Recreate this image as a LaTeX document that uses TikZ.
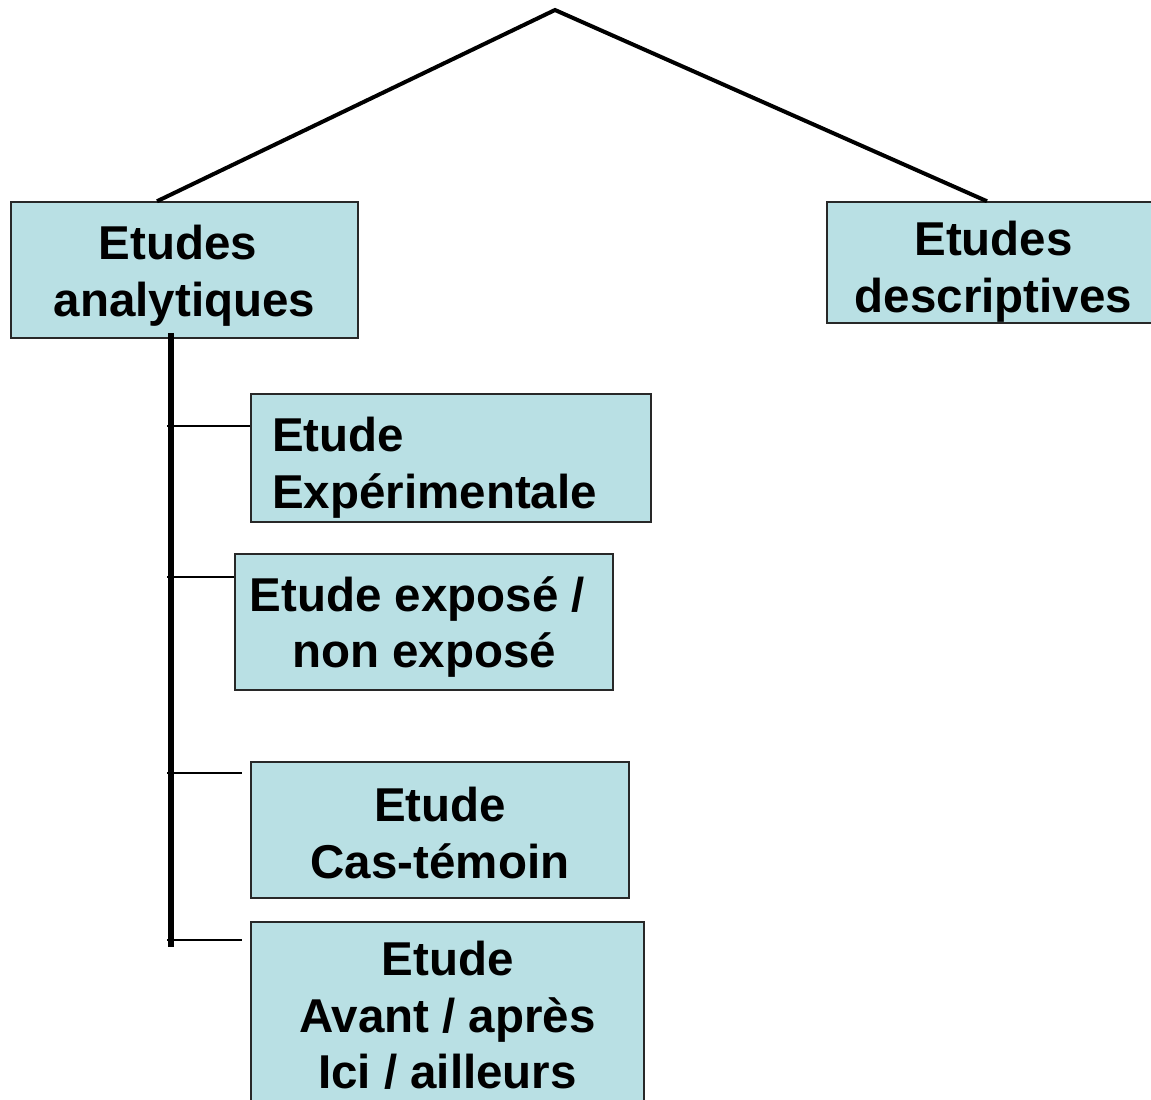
\documentclass[tikz,border=0pt]{standalone}
\usepackage{fontspec}
\setmainfont{Liberation Sans}
\definecolor{boxfill}{RGB}{185,224,228}
\definecolor{boxline}{RGB}{40,40,40}
\tikzset{
  boxshape/.style={draw=boxline, line width=1.5pt, fill=boxfill, inner sep=0pt, rectangle},
  txt/.style={inner sep=0pt, font=\fontsize{47.5}{56.5}\selectfont\bfseries},
  thickline/.style={line width=4pt, black},
  stem/.style={line width=5.5pt, black},
  branch/.style={line width=1.7pt, black}
}
\begin{document}
\begin{tikzpicture}[x=1pt,y=-1pt]
\useasboundingbox (0,0) rectangle (1151,1100);
% boxes
\node[boxshape, minimum width=347pt, minimum height=136pt] (A) at (184.5,270) {};
\node[boxshape, minimum width=328pt, minimum height=121pt] (B) at (991,262.5) {};
\node[boxshape, minimum width=400pt, minimum height=128pt] (C) at (451,458) {};
\node[boxshape, minimum width=378pt, minimum height=136pt] (D) at (424,622) {};
\node[boxshape, minimum width=378pt, minimum height=136pt] (E) at (440,830) {};
\node[boxshape, minimum width=393pt, minimum height=188pt] (F) at (447.5,1016) {};
% texts
\node[txt, align=center, anchor=north] (tA) at (184.5,225) {Etudes\kern0.278em\\analytiques};
\node[txt, align=center, anchor=north] (tB) at (993.5,221) {Etudes\\descriptives};
\node[txt, align=left, anchor=north west] (tC) at (272,417) {Etude\\Expérimentale};
\node[txt, align=center, anchor=north] (tD) at (424,576) {Etude exposé /\kern0.278em\\non exposé};
\node[txt, align=center, anchor=north] (tE) at (440,787) {Etude\\Cas-témoin};
\node[txt, align=center, anchor=north] (tF) at (447.5,941) {Etude\\Avant / après\\Ici / ailleurs};
% top connectors
\coordinate (apex) at (555,10);
\draw[thickline, line join=miter] ([xshift=-27.5pt]A.north) -- (apex) -- ([xshift=-4pt]B.north);
% stem
\coordinate (stemEnd) at (171,947);
\draw[stem] ([xshift=-13.5pt,yshift=6pt]A.south) -- (stemEnd);
% branches
\draw[branch] (167,426) -- (C.west |- 0,426);
\draw[branch] (167,577) -- (D.west |- 0,577);
\coordinate (eEnd) at (242,773);
\coordinate (fEnd) at (242,940);
\draw[branch] (167,773) -- (eEnd);
\draw[branch] (167,940) -- (fEnd);
\end{tikzpicture}
\end{document}
